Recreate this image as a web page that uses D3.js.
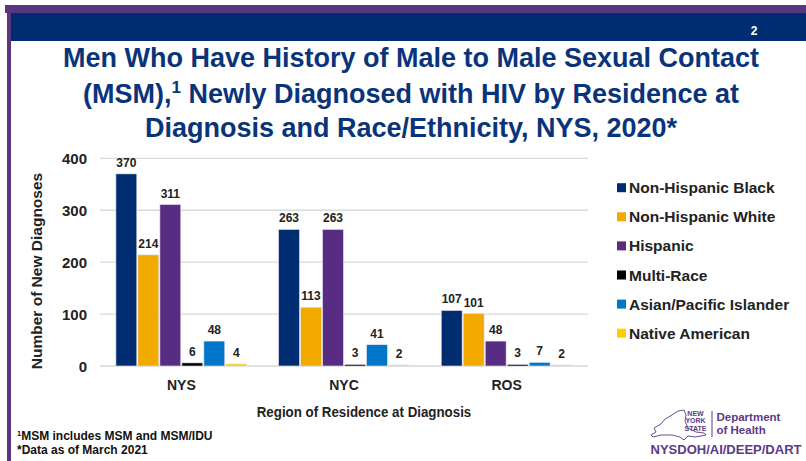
<!DOCTYPE html>
<html><head><meta charset="utf-8">
<script src="https://cdnjs.cloudflare.com/ajax/libs/d3/7.8.5/d3.min.js"></script>
<style>
html,body{margin:0;padding:0;background:#fff;}
svg{display:block;font-family:"Liberation Sans",Arial,sans-serif;}
</style></head>
<body>
<svg id="chart" width="806" height="461"></svg>
<script>
const regions = ["NYS", "NYC", "ROS"];
const seriesNames = ["Non-Hispanic Black", "Non-Hispanic White", "Hispanic", "Multi-Race", "Asian/Pacific Islander", "Native American"];
const seriesColors = ["#002d72", "#f2a900", "#582c83", "#000000", "#0077c8", "#ffcd00"];
const nhBlack = [370, 263, 107];
const nhWhite = [214, 113, 101];
const hispanic = [311, 263, 48];
const multiRace = [6, 3, 3];
const asianPI = [48, 41, 7];
const nativeAm = [4, 2, 2];
const yTicks = [0, 100, 200, 300, 400];
const titleLines = ["Men Who Have History of Male to Male Sexual Contact", "(MSM),|1| Newly Diagnosed with HIV by Residence at", "Diagnosis and Race/Ethnicity, NYS, 2020*"];

const seriesValues = [nhBlack, nhWhite, hispanic, multiRace, asianPI, nativeAm];
const svg = d3.select("#chart");
const navy = "#002d72", purple = "#5b3a87", titleBlue = "#0a347a";

// slide frame
svg.append("rect").attr("x", 5).attr("y", 5).attr("width", 801).attr("height", 8).attr("fill", "#5a3580");
svg.append("rect").attr("x", 7).attr("y", 5).attr("width", 4).attr("height", 456).attr("fill", "#5a3580");
svg.append("rect").attr("x", 11).attr("y", 13).attr("width", 795).attr("height", 28).attr("fill", navy);
svg.append("text").attr("x", 754).attr("y", 34.5).attr("text-anchor", "middle").attr("fill", "#fff")
  .attr("font-size", 12).attr("font-weight", "bold").text("2");

// title
const title = svg.append("text").attr("text-anchor", "middle").attr("fill", titleBlue)
  .attr("font-weight", "bold").attr("font-size", 27);
const tBase = [67, 103, 137];
titleLines.forEach((line, i) => {
  const t = title.append("tspan").attr("x", 411).attr("y", tBase[i]);
  const parts = line.split("|");
  parts.forEach((p, j) => {
    if (j === 1) {
      t.append("tspan").attr("font-size", 17).attr("dy", -10).text(p);
    } else if (j === 2) {
      t.append("tspan").attr("dy", 10).text(p);
    } else {
      t.append("tspan").text(p);
    }
  });
});

// chart
const pLeft = 100, pRight = 588, pTop = 158.3, pBottom = 366;
const y = d3.scaleLinear().domain([0, 400]).range([pBottom, pTop]);
const x0 = d3.scaleBand().domain(regions).range([pLeft, pRight]).paddingInner(0.182).paddingOuter(0.091);
const x1 = d3.scaleBand().domain(seriesNames).range([0, x0.bandwidth()]).padding(0.05);

const g = svg.append("g");
g.selectAll("line.grid").data(yTicks).join("line").attr("class", "grid")
  .attr("x1", pLeft).attr("x2", pRight).attr("y1", d => y(d)).attr("y2", d => y(d))
  .attr("stroke", "#d9d9d9").attr("stroke-width", 1.3);

const yAxis = d3.axisLeft(y).tickValues(yTicks).tickSize(0).tickPadding(13);
const ya = g.append("g").attr("transform", `translate(${pLeft},0)`).call(yAxis);
ya.select(".domain").remove();
ya.selectAll("text").attr("font-size", 15).attr("font-weight", "bold").attr("fill", "#222")
  .attr("font-family", "'Liberation Sans',Arial,sans-serif").attr("dy", "0.35em");

const xAxis = d3.axisBottom(x0).tickSize(0).tickPadding(0);
const xa = g.append("g").attr("transform", `translate(0,${pBottom})`).call(xAxis);
xa.select(".domain").remove();
xa.selectAll("text").attr("font-size", 14).attr("font-weight", "bold").attr("fill", "#222")
  .attr("font-family", "'Liberation Sans',Arial,sans-serif").attr("y", 23.5).attr("dy", null);

const data = [];
regions.forEach((r, ri) => seriesNames.forEach((s, si) => data.push({r, s, si, v: seriesValues[si][ri]})));
const bars = g.append("g");
bars.selectAll("rect").data(data).join("rect")
  .attr("x", d => x0(d.r) + x1(d.s)).attr("width", x1.bandwidth())
  .attr("y", d => y(d.v)).attr("height", d => Math.max(0, y(0) - y(d.v)))
  .attr("fill", d => seriesColors[d.si]).attr("stroke", "#e8e4ee").attr("stroke-width", 0.6);
bars.selectAll("text").data(data).join("text")
  .attr("x", d => x0(d.r) + x1(d.s) + x1.bandwidth() / 2).attr("y", d => y(d.v) - 7)
  .attr("text-anchor", "middle").attr("font-size", 12).attr("font-weight", "bold").attr("fill", "#222")
  .text(d => d.v);

// axis titles
svg.append("text").attr("transform", "translate(41.5,271) rotate(-90)").attr("text-anchor", "middle")
  .attr("font-size", 15.5).attr("font-weight", "bold").attr("fill", "#222").text("Number of New Diagnoses");
svg.append("text").attr("transform", "translate(364,417) scale(0.86,1)").attr("text-anchor", "middle")
  .attr("font-size", 15.5).attr("font-weight", "bold").attr("fill", "#222").text("Region of Residence at Diagnosis");

// legend
const lg = svg.append("g");
seriesNames.forEach((s, i) => {
  const cy = 187.7 + i * 29.1;
  lg.append("rect").attr("x", 617).attr("y", cy - 4.5).attr("width", 9).attr("height", 9).attr("fill", seriesColors[i]);
  lg.append("text").attr("x", 629).attr("y", cy).attr("dy", "0.36em").attr("font-size", 15.5)
    .attr("font-weight", "bold").attr("fill", "#222").text(s);
});

// footnotes
const fn = svg.append("g").attr("font-size", 12).attr("font-weight", "bold").attr("fill", "#111");
const f1 = fn.append("text").attr("x", 17).attr("y", 439.5);
f1.append("tspan").attr("font-size", 7.5).attr("dy", -4).text("1");
f1.append("tspan").attr("dy", 4).text("MSM includes MSM and MSM/IDU");
fn.append("text").attr("x", 17).attr("y", 453.5).text("*Data as of March 2021");

// logo
const logo = svg.append("g");
logo.append("path")
  .attr("d", "M654,428 L661,424 L665,419 L672,415 L678,411 L684,410 L686,415 L685,421 L688,428 L696,432 L704,433 L706,435 L695,437 L688,436 L684,440 L680,437 L672,435 L661,435 L653,437 L651,435 L656,432 Z")
  .attr("fill", "none").attr("stroke", purple).attr("stroke-width", 0.9);
const small = logo.append("g").attr("font-size", 7).attr("font-weight", "bold").attr("fill", purple).attr("text-anchor", "middle");
small.append("text").attr("x", 695.5).attr("y", 416).text("NEW");
small.append("text").attr("x", 695.5).attr("y", 423.3).text("YORK");
small.append("text").attr("x", 695.5).attr("y", 430.7).text("STATE");
logo.append("line").attr("x1", 712).attr("x2", 712).attr("y1", 411).attr("y2", 437).attr("stroke", purple).attr("stroke-width", 1);
const dep = logo.append("g").attr("font-size", 11.5).attr("font-weight", "bold").attr("fill", purple);
dep.append("text").attr("x", 716.5).attr("y", 420.7).text("Department");
dep.append("text").attr("x", 716.5).attr("y", 434.3).text("of Health");
logo.append("text").attr("x", 726).attr("y", 453.5).attr("text-anchor", "middle")
  .attr("font-size", 13).attr("font-weight", "bold").attr("fill", purple).text("NYSDOH/AI/DEEP/DART");
</script>
</body></html>
